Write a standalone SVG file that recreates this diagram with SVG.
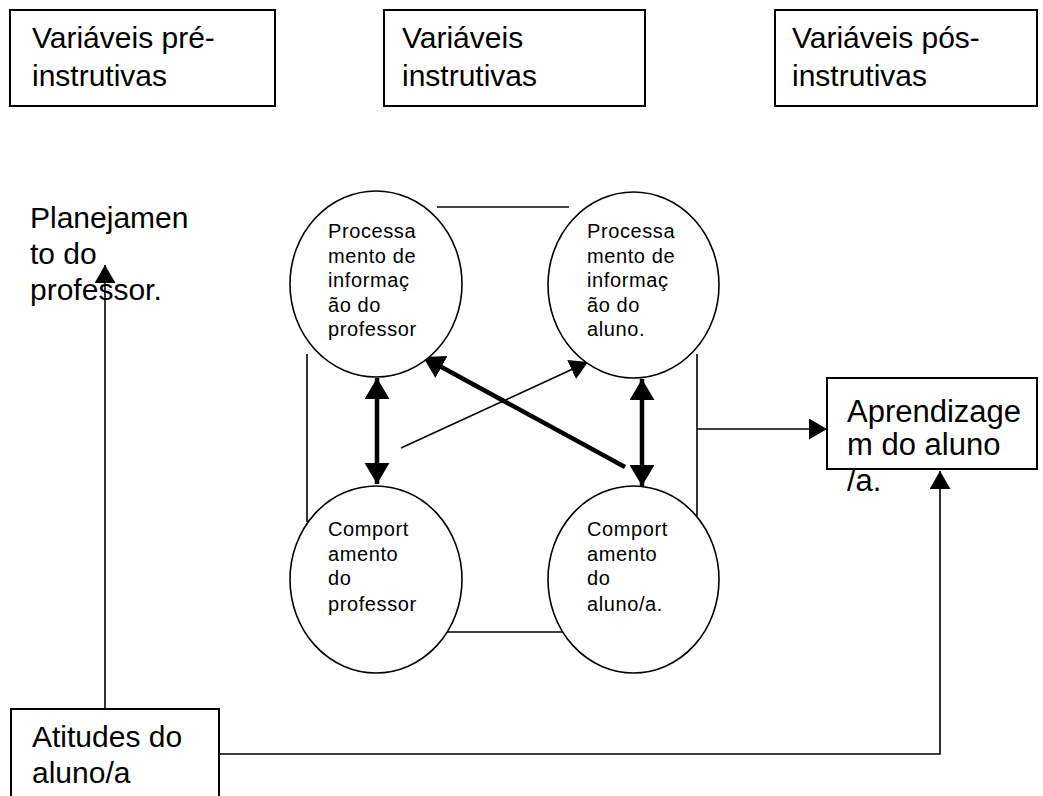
<svg xmlns="http://www.w3.org/2000/svg" width="1043" height="796" viewBox="0 0 1043 796">
<style>
.box{fill:#fff;stroke:#000;stroke-width:2}
.circ{fill:#fff;stroke:#000;stroke-width:1.6}
.big{font-family:"Liberation Sans",Arial,sans-serif;font-size:30px;fill:#000}
.sm{font-family:"Liberation Sans",Arial,sans-serif;font-size:20px;letter-spacing:0.6px;fill:#000}
.ln{fill:none;stroke:#000;stroke-width:1.6}
.thick{fill:none;stroke:#000;stroke-width:4.5}
</style>
<defs>
<marker id="ah" markerUnits="userSpaceOnUse" markerWidth="19" markerHeight="22" refX="18" refY="10.5" orient="auto-start-reverse" viewBox="0 0 19 22">
<path d="M0,0 L18,10.5 L0,21 z" fill="#000"/>
</marker>
<marker id="ahT" markerUnits="userSpaceOnUse" markerWidth="22" markerHeight="26" refX="21" refY="12.5" orient="auto-start-reverse" viewBox="0 0 22 26">
<path d="M0,0 L21,12.5 L0,25 z" fill="#000"/>
</marker>
</defs>
<rect width="1043" height="796" fill="#fff"/>

<g id="connectors">
<line class="ln" x1="437" y1="207" x2="569" y2="207"/>
<line class="ln" x1="437" y1="632" x2="569" y2="632"/>
<line class="ln" x1="307" y1="354" x2="307" y2="522"/>
<line class="ln" x1="697" y1="354" x2="697" y2="522"/>
<line class="ln" x1="697" y1="429" x2="827" y2="429" marker-end="url(#ah)"/>
<line class="ln" x1="105" y1="709" x2="105" y2="265" marker-end="url(#ah)"/>
<polyline class="ln" points="215,754 940,754 940,471" marker-end="url(#ah)"/>
<line class="thick" x1="377" y1="378" x2="377" y2="484" marker-start="url(#ahT)" marker-end="url(#ahT)"/>
<line class="thick" x1="642" y1="379" x2="642" y2="486" marker-start="url(#ahT)" marker-end="url(#ahT)"/>
<line class="thick" x1="625" y1="467" x2="423" y2="357" marker-end="url(#ahT)"/>
<line class="ln" x1="401" y1="448" x2="588" y2="362" marker-end="url(#ah)"/>
</g>

<g id="pre">
<rect class="box" x="10" y="10" width="265" height="96"/>
<text class="big" x="32" y="48">Variáveis pré-</text>
<text class="big" x="32" y="86">instrutivas</text>
</g>
<g id="instr">
<rect class="box" x="384" y="10" width="261" height="96"/>
<text class="big" x="402" y="48">Variáveis</text>
<text class="big" x="402" y="86">instrutivas</text>
</g>
<g id="pos">
<rect class="box" x="775" y="10" width="262" height="96"/>
<text class="big" x="792" y="48">Variáveis pós-</text>
<text class="big" x="792" y="86">instrutivas</text>
</g>

<g id="planejamento">
<text class="big" x="30" y="228">Planejamen</text>
<text class="big" x="30" y="264">to do</text>
<text class="big" x="30" y="300">professor.</text>
</g>

<g id="proc-prof">
<ellipse class="circ" cx="376" cy="284" rx="86" ry="93"/>
<text class="sm" x="328" y="238">Processa</text>
<text class="sm" x="328" y="262.5">mento de</text>
<text class="sm" x="328" y="287">informaç</text>
<text class="sm" x="328" y="311.5">ão do</text>
<text class="sm" x="328" y="336">professor</text>
</g>
<g id="proc-aluno">
<ellipse class="circ" cx="633.5" cy="285" rx="85.5" ry="93"/>
<text class="sm" x="587" y="238">Processa</text>
<text class="sm" x="587" y="262.5">mento de</text>
<text class="sm" x="587" y="287">informaç</text>
<text class="sm" x="587" y="311.5">ão do</text>
<text class="sm" x="587" y="336">aluno.</text>
</g>
<g id="comp-prof">
<ellipse class="circ" cx="376" cy="579.5" rx="86" ry="93.5"/>
<text class="sm" x="328" y="536">Comport</text>
<text class="sm" x="328" y="560.5">amento</text>
<text class="sm" x="328" y="585">do</text>
<text class="sm" x="328" y="611">professor</text>
</g>
<g id="comp-aluno">
<ellipse class="circ" cx="633.5" cy="579.5" rx="85.5" ry="93.5"/>
<text class="sm" x="587" y="536">Comport</text>
<text class="sm" x="587" y="560.5">amento</text>
<text class="sm" x="587" y="585">do</text>
<text class="sm" x="587" y="611">aluno/a.</text>
</g>

<g id="aprendizagem">
<rect class="box" x="827" y="378" width="210" height="91"/>
<text class="big" x="847" y="422" style="font-size:31px">Aprendizage</text>
<text class="big" x="847" y="455" style="font-size:31px">m do aluno</text>
<text class="big" x="847" y="491" style="font-size:31px">/a.</text>
</g>

<g id="atitudes">
<rect class="box" x="11" y="709" width="208" height="100"/>
<text class="big" x="32" y="747">Atitudes do</text>
<text class="big" x="32" y="783">aluno/a</text>
</g>
</svg>
